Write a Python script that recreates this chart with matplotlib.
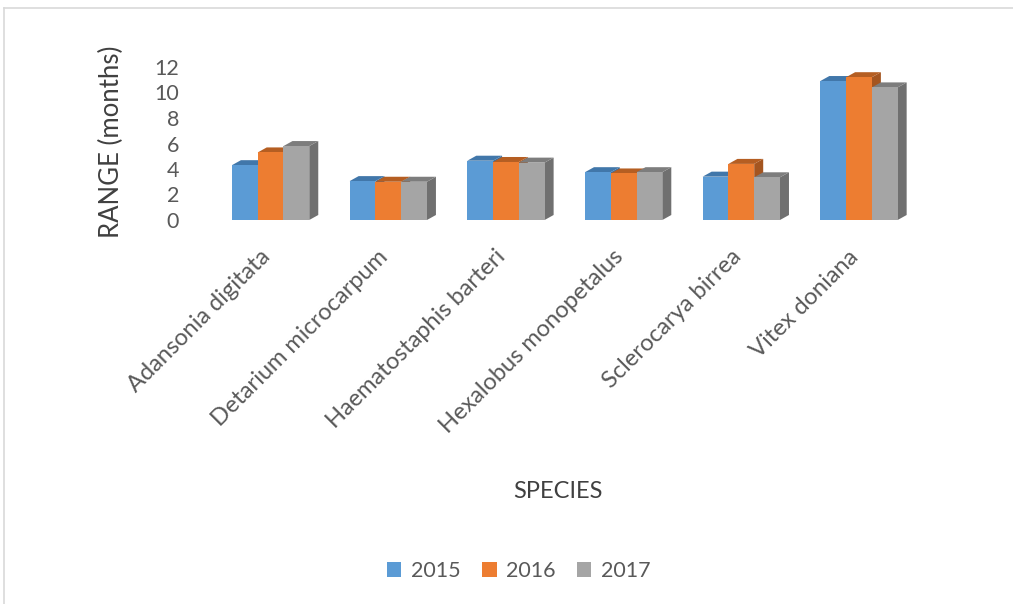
import matplotlib
matplotlib.use("Agg")
import matplotlib.pyplot as plt
from matplotlib.patches import Polygon, Patch
from matplotlib.lines import Line2D
import numpy as np

species = ["Adansonia digitata", "Detarium microcarpum", "Haematostaphis barteri",
           "Hexalobus monopetalus", "Sclerocarya birrea", "Vitex doniana"]
years = ["2015", "2016", "2017"]
v2015 = [4.3, 3.05, 4.65, 3.75, 3.4, 10.9]
v2016 = [5.3, 3.0, 4.55, 3.65, 4.4, 11.2]
v2017 = [5.8, 3.0, 4.5, 3.75, 3.35, 10.4]
yticks = [0, 2, 4, 6, 8, 10, 12]

front = ["#5B9BD5", "#ED7D31", "#A5A5A5"]
top = ["#4177AA", "#B55E22", "#7D7D7D"]
side = ["#3E6E9C", "#A45520", "#707070"]

W, H = 1013, 604
fig = plt.figure(figsize=(W / 100, H / 100), dpi=100)
plt.rcParams['font.family'] = ['Lato', 'DejaVu Sans']

# axes geometry in pixels
ax_l, ax_r, ax_top, ax_bot = 200, 929.6, 67, 220
ax = fig.add_axes([ax_l / W, (H - ax_bot) / H, (ax_r - ax_l) / W, (ax_bot - ax_top) / H])
xmin, xmax, ymin, ymax = -0.6, 5.6, 0, 12
ax.set_xlim(xmin, xmax)
ax.set_ylim(ymin, ymax)

# depth offset of 3D faces in pixels -> data units
dpx, dpy = 9, 5
ddx = dpx * (xmax - xmin) / (ax_r - ax_l)
ddy = dpy * (ymax - ymin) / (ax_bot - ax_top)

bw = 0.219
x = np.arange(len(species))
series = [v2015, v2016, v2017]
z = 2
for gi in range(len(species)):
    for si, vals in enumerate(series):
        xc = x[gi] + (si - 1) * bw
        h = vals[gi]
        x0, x1 = xc - bw / 2, xc + bw / 2
        # side face
        ax.add_patch(Polygon([(x1, 0), (x1 + ddx, ddy), (x1 + ddx, h + ddy), (x1, h)],
                             closed=True, facecolor=side[si], edgecolor='none', zorder=z))
        # top face
        ax.add_patch(Polygon([(x0, h), (x1, h), (x1 + ddx, h + ddy), (x0 + ddx, h + ddy)],
                             closed=True, facecolor=top[si], edgecolor='none', zorder=z + 1))
        ax.bar(xc, h, width=bw, color=front[si], edgecolor='none', zorder=z + 2)
        z += 3

for s in ax.spines.values():
    s.set_visible(False)
ax.set_yticks(yticks)
ax.set_yticklabels([str(t) for t in yticks], fontsize=15.5, color="#595959")
ax.tick_params(axis='y', length=0, pad=15)
ax.set_xticks(x - 0.03)
ax.set_xticklabels(species, rotation=45, ha='right', va='center', rotation_mode='anchor',
                   fontsize=17, color="#595959")
ax.tick_params(axis='x', length=0, pad=24)
ax.patch.set_alpha(0)

ax.set_ylabel("RANGE (months)", fontsize=18.5, color="#404040")
ax.yaxis.set_label_coords((124 - ax_l) / (ax_r - ax_l), (ax_bot - 142) / (ax_bot - ax_top))

fig.text(558 / W, 1 - 492 / H, "SPECIES", fontsize=17, color="#404040", ha='center', va='center')

handles = [Patch(facecolor=c, edgecolor='none') for c in front]
fig.legend(handles, years, loc='center', bbox_to_anchor=(519 / W, 1 - 571 / H), ncol=3,
           frameon=False, fontsize=15.5, handlelength=0.66, handleheight=0.66,
           handletextpad=0.45, columnspacing=1.0, labelcolor="#595959")

# chart border
fig.add_artist(Line2D([4 / W, 1], [1 - 8 / H, 1 - 8 / H], color="#D9D9D9", lw=1.2,
                      transform=fig.transFigure))
fig.add_artist(Line2D([4 / W, 4 / W], [1 - 8 / H, 0], color="#D9D9D9", lw=1.2,
                      transform=fig.transFigure))

fig.savefig("out.png", dpi=100)
